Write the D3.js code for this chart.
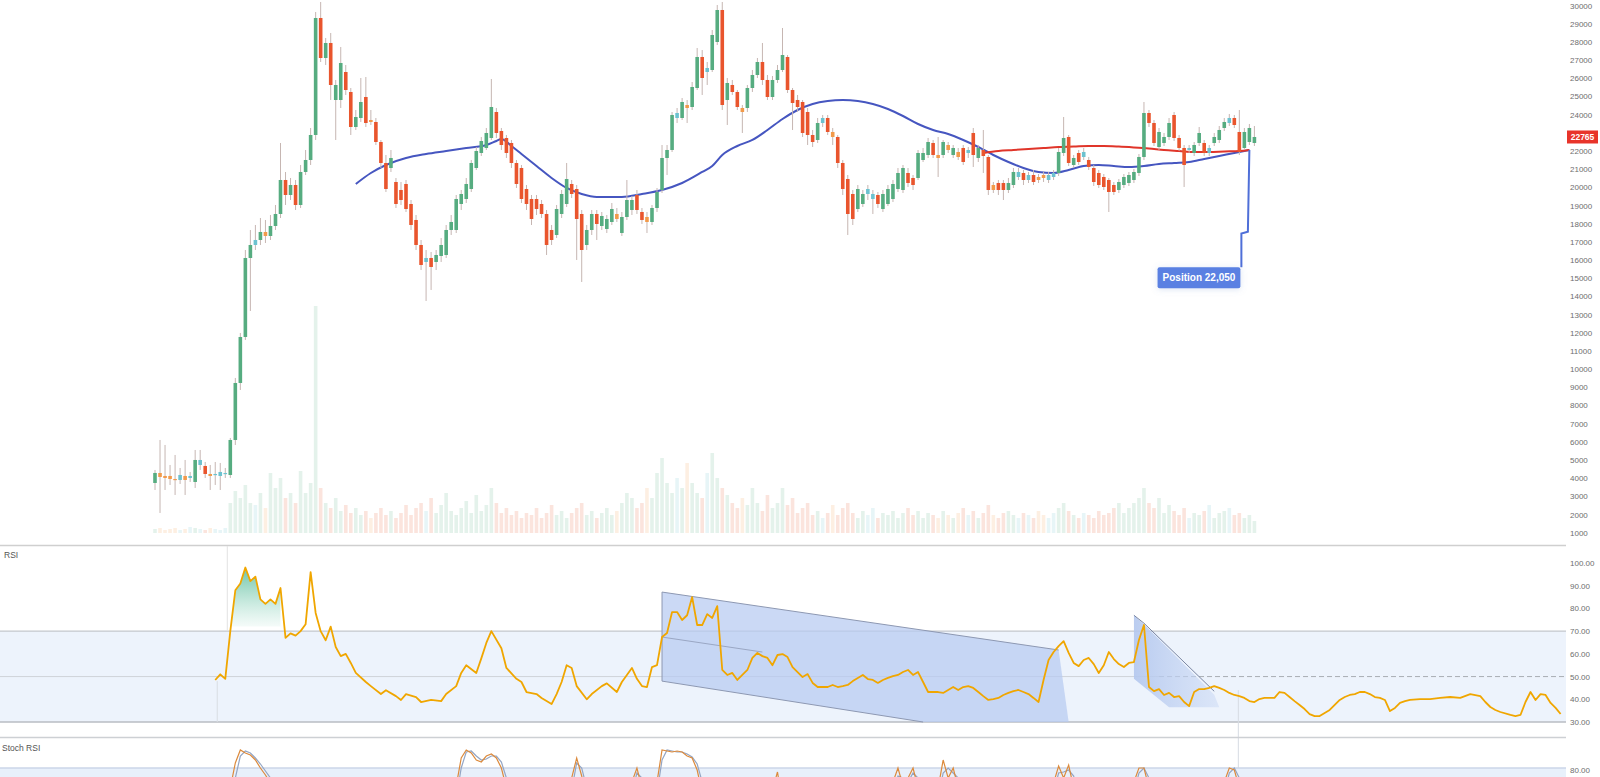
<!DOCTYPE html>
<html>
<head>
<meta charset="utf-8">
<script src="https://cdn.jsdelivr.net/npm/d3@7/dist/d3.min.js"></script>
<style>
  html, body { margin: 0; padding: 0; background: #ffffff; }
  svg { display: block; font-family: "Liberation Sans", Arial, sans-serif; }
</style>
</head>
<body>
<svg id="chart" width="1600" height="777"></svg>
<script>
// ---- price bars (one entry per session) ----
const opens = [
  3735,4285,4120,4120,3955,3900,4120,4010,3790,4725,
  4670,4230,4175,4120,4230,4175,6100,9235,11765,16110,
  16825,17100,17540,17320,17870,18530,20400,19575,20125,19025,
  20840,21500,22875,29310,27110,27935,24800,24800,26340,25240,
  23315,23810,24965,23700,23590,22490,21335,21060,20290,19850,
  20180,19080,18200,16825,15890,16110,15890,16220,16275,17650,
  17650,19080,19355,19905,21060,21885,22160,22710,24140,23095,
  22710,22435,21335,21060,19905,19355,19355,19080,18530,17650,
  17375,18530,19080,20180,19905,18530,16825,17650,18530,17870,
  17705,18090,18530,17485,18365,18750,19575,18640,18365,18090,
  18860,19850,21610,22050,23810,23810,24525,24415,25460,27165,
  26340,26450,27990,29750,24800,25625,25240,24360,24360,25460,
  26175,26890,25900,24965,25900,26450,27165,25350,24800,24690,
  24140,22875,22600,23535,23810,23040,22765,21335,20455,19630,
  18805,19080,19630,19355,19575,18805,19080,19355,19905,19850,
  20785,20510,20510,21500,21775,22435,21775,21775,22325,21775,
  21940,22160,21885,22985,21610,22050,21665,20125,20235,20235,
  19850,20125,20565,20785,20400,20675,20565,20675,20400,20565,
  20785,21885,22765,21225,21885,21665,21500,21060,20785,20565,
  20400,20125,19850,20125,20235,20400,20785,21665,24085,23535,
  22215,22435,22765,23975,22710,22160,22050,21885,22435,22435,
  21885,22435,22600,23260,23535,23810,23040,22160,22490,22435
];
const highs = [
  4450,6100,5825,4725,5275,4560,5000,4340,5550,5550,
  4890,4725,4890,4835,4560,6210,9510,11985,16550,17650,
  17925,18310,18200,18475,19025,22435,20840,20510,20400,21225,
  22050,23260,29640,30190,28210,28485,25900,27715,26725,25460,
  24250,26010,26065,24250,23810,22600,21775,22050,20510,20290,
  20400,19300,18475,17100,16550,16440,16550,17210,17925,18475,
  19575,19850,20510,21500,22215,22765,23260,25955,24360,23260,
  22875,22600,21500,21225,20125,19575,19575,19300,18750,17925,
  19025,19850,21335,20400,20125,18750,17925,18750,18750,18640,
  18475,19135,18860,18640,20400,19520,19850,18860,18640,19025,
  19960,22325,22325,24140,24360,24910,24800,25790,27660,27550,
  26890,28650,30025,30190,26010,25900,25350,24525,25625,26450,
  27110,27935,26175,26120,26725,28760,27275,25460,25075,24800,
  24360,23150,23810,23975,23975,23260,22875,21500,20675,19850,
  20125,19850,20125,19850,19740,19850,20125,20400,21060,21225,
  21060,20675,22050,22160,22710,22600,22765,22600,22490,22325,
  22160,22325,22215,23260,22325,23150,21775,20290,20400,20400,
  20510,21060,21060,20950,20840,20950,20730,20840,20840,20950,
  22160,23865,22875,21775,22050,22160,21665,21225,20950,20730,
  20510,20290,20455,20730,20840,21005,21830,24690,24250,23700,
  23260,22985,23810,24140,22875,22325,22325,22490,23315,22600,
  22325,22985,23370,23810,24030,23975,24250,23260,23480,23370
];
const lows = [
  3350,2085,3350,3625,3075,3680,3075,3790,3460,4450,
  4010,3350,3625,3350,4010,4010,5825,8850,11600,13195,
  16550,16825,16935,17100,17650,18310,19025,19300,18750,18860,
  20675,21225,22600,26890,26725,24800,22600,24360,25075,22875,
  23150,23590,23315,23425,22325,21060,19740,20840,18860,19025,
  18640,17650,16550,15450,13745,14350,15450,15890,16110,17375,
  17485,18750,19135,19740,20950,21720,22050,22600,22710,22050,
  21610,21060,19960,19135,18750,17925,18475,18310,16275,16825,
  17210,18310,18915,19410,16000,14790,16550,17375,17100,17650,
  17485,17925,18090,17320,18200,18475,18530,17980,17485,17925,
  18640,19685,20675,21940,23535,23700,23535,24250,25350,25075,
  25625,26340,27825,24250,23425,25075,24250,22985,24140,25240,
  26010,25625,24800,24800,25735,26340,25185,23150,24140,22765,
  22325,22215,22435,23315,22875,22325,21060,19575,17375,17925,
  18640,18915,19300,18530,18860,18640,18970,19190,19740,19685,
  20015,19850,20400,21390,21610,21610,20565,21610,21885,21610,
  21500,21225,21610,21115,21390,20785,19575,19685,19575,19300,
  19685,19960,20400,20125,20235,20125,20235,20290,20235,20400,
  20620,21720,21170,21060,21225,21500,20950,20070,19960,19850,
  18640,19575,19685,19960,20070,20235,20620,21500,23315,22270,
  22050,22270,22600,22545,21995,20015,21885,21720,22270,21720,
  21720,22270,22435,23095,23370,23260,21775,22050,22325,22270
];
const closes = [
  4285,4065,4010,3955,3900,4175,3900,4120,5000,5000,
  4230,4120,4230,4340,4285,6100,9235,11765,16110,16825,
  17100,17540,17320,17870,18530,20400,19575,20125,19025,20840,
  21500,22875,29310,27110,27935,25625,25625,26835,25350,23315,
  23865,24690,23535,23590,22490,21335,19905,21610,19080,19300,
  18805,17925,16825,15725,16110,15615,16275,16825,17650,18090,
  19355,19630,20180,21335,21995,22545,22985,24415,22985,22325,
  21885,21335,20180,19355,19080,18255,18805,18530,16825,17100,
  18805,19630,20455,19630,18255,16550,17650,18530,17980,18420,
  18255,18805,18255,18365,19300,19300,18750,18200,18090,18860,
  19740,21610,22050,23975,24085,24690,24360,25515,27165,26010,
  26560,28375,29750,24525,25735,25240,24415,24140,25460,26175,
  26890,25900,24965,25900,26450,27275,25350,24635,24415,22985,
  22875,22490,23535,23810,23040,22765,21335,19905,18530,18255,
  19905,19630,19905,19630,19080,19630,19905,20180,20785,21060,
  20235,20125,21885,21885,22490,21775,21610,22490,22050,22160,
  21665,21390,22050,21775,22160,21720,19850,19850,19850,19850,
  20235,20840,20840,20400,20675,20290,20400,20510,20675,20785,
  21940,22710,21335,21610,21390,21940,21115,20290,20125,20015,
  19740,19740,20290,20565,20675,20840,21665,24085,23535,22435,
  23040,22765,23535,22710,22160,21225,22160,22325,22985,21885,
  22160,22765,23150,23590,23810,23425,21940,23040,23260,22765
];
const volumes = [
  4,5,3,4,5,3,4,6,5,4,3,5,4,3,5,
  30,42,35,48,30,28,40,25,60,45,
  55,35,40,30,62,40,50,227,45,30,
  25,35,22,28,20,25,18,22,15,20,
  25,18,22,15,20,28,18,25,30,22,
  35,20,28,40,22,18,25,32,20,38,
  22,28,45,30,20,25,18,22,15,20,
  18,25,15,20,28,18,22,15,20,25,
  30,18,22,15,20,25,18,22,30,40,
  35,25,30,45,35,60,75,50,40,55,
  45,70,50,40,35,60,80,55,45,38,
  30,25,35,28,45,30,22,38,25,30,
  45,28,35,20,25,30,18,22,15,20,
  28,18,25,30,20,15,22,18,25,15,
  20,18,22,15,20,25,18,22,15,20,
  18,15,22,18,15,20,25,18,22,15,
  20,28,18,15,20,22,18,15,20,18,
  15,22,18,15,20,25,30,22,18,15,
  20,18,15,22,18,20,25,30,20,25,
  30,35,45,30,25,35,20,28,22,18,
  25,15,20,18,22,28,15,20,22,25,
  18,20,15,18,12
];

// ---- moving averages (bar index, value) ----
const slowMaBars = [40,43,46,50,54,58,62,66,68,69,71,73,76,79,82,85,88,93,97,101,105,109,111,113,116,119,122,125,128,131,134,137,140,143,146,149,152,155,158,161,164,167,170,173,176,179,182,185,188,191,194,197,200,203,206,209,212,215,218];
const slowMaVals = [20180,20785,21225,21610,21830,21995,22160,22325,22545,22655,22270,21830,21170,20510,19960,19630,19465,19465,19630,19850,20235,20840,21170,21775,22270,22600,23150,23755,24250,24580,24745,24800,24745,24580,24305,23920,23480,23150,22930,22600,22215,21775,21390,21060,20840,20785,20950,21170,21225,21170,21115,21170,21280,21335,21390,21555,21720,21885,22050];
const fastMaBars = [165,168,171,174,177,180,183,186,189,192,195,198,201,204,207,210,213,216,218];
const fastMaVals = [21885,21995,22050,22105,22160,22215,22240,22270,22270,22240,22190,22130,22050,21995,21940,21940,21970,21995,22050];

// ---- RSI (bar index, value) ----
const rsiBars = [12,13,14,15,16,17,18,19,20,21,22,23,24,25,26,27,28,29,30,31,32,33,34,35,36,37,38,39,40,42,43,45,46,48,49,50,52,53,55,57,58,60,61,62,64,65,66,67,69,70,72,73,74,76,77,79,80,81,82,83,84,86,87,89,90,92,93,95,96,97,98,99,100,101,102,103,104,105,106,107,108,109,110,111,112,113,114,115,116,117,118,119,120,121,122,123,124,125,126,127,128,129,130,131,132,133,134,135,136,137,138,139,140,141,142,143,144,145,146,147,148,149,150,151,152,153,154,155,156,157,158,159,160,161,162,163,164,165,166,167,168,169,170,171,172,173,174,175,176,177,178,179,180,181,182,183,184,185,186,187,188,189,190,191,192,193,194,195,196,197,198,199,200,201,202,203,204,205,206,207,208,209,210,211,212,213,214,215,216,217,218,219,220,221,223,224,225,226,227,228,229,230,231,232,233,234,235,236,237,238,239,240,241,242,243,244,245,246,247,248,249,250,252,254,256,258,260,262,264,265,266,267,268,270,271,272,273,274,275,276,277,278,279,280];
const rsiVals = [48.5,51,49,70,88,91,98,92,94,84,82,84,82,89,67,69,68,70,73,96,78,70,66,72,63,59,60,56,51.6,47.6,45.8,42.3,44,41.4,39.7,42.3,41,38.8,39.7,39.2,42.3,45.8,51.6,55,51.6,58,64.8,70,62.5,53.8,49,47.6,43.2,42.3,40.6,37.9,42.3,47.6,55,53.8,45.8,40,42.3,45.8,47,43.2,47.6,53.8,49,45.8,45.4,54.2,55,67.4,69.2,78.4,78.4,74.9,77,85,72.7,72.7,77.5,75.8,81,52.9,50.7,51.6,48.5,50.7,52.9,58.2,60.4,59,58.2,55,59.5,59.9,58.6,54.2,52,49.8,51.1,47.2,45.4,45.4,45.4,46.3,45.4,45.8,46.3,48,49.4,50.7,48.9,48.5,47.2,48.5,49.4,50.2,50.7,52,52.9,50.7,52,47.6,43.2,43.2,43.2,42.8,44.1,45.4,44.1,45.4,45.8,45,43.2,41.4,39.7,40.1,40.6,41.9,42.8,43.6,44.1,43.2,42.3,40.6,38.8,48.5,57.3,60.8,63.4,65.6,60.4,56,54.6,57.3,58.2,55.5,51.6,55,60.8,57.7,55.5,54.2,56,56.4,66.1,72.7,45.4,43.6,44.5,41.9,42.8,41,41.4,38.8,37,43.2,44.5,44.5,45,45.8,45,44.1,42.8,41.9,41.4,40.6,39.2,38.8,40.1,40.6,40.6,43.2,42.8,41,39.2,37.5,35.7,33.5,32.6,32.6,34,35.3,37.5,39.7,41,41.9,42.3,43.2,43.2,42.3,41,40.6,39.7,34.8,36.2,38.4,39.2,39.7,40.1,40.1,40.6,41,40.6,42.3,41.4,38.8,36.6,35.3,34.4,33.1,32.6,33.1,38.8,43.2,39.7,42.3,41.9,38.4,36.2,33.5];

// divergence channel and wedge drawn on the RSI pane (bar index, RSI value)
const channelShape = [[101,87.2],[180,61.7],[182,30],[153,30],[101,48]];
const channelTopEdge = [[101,87.2],[180,61.7]];
const channelBottomEdge = [[101,48],[153,30]];
const channelMidEdge = [[101,67.4],[121,60.8]];
const wedgeShape = [[195,77],[197,73],[211,42],[212,36.5],[202,36.5],[195,49]];
const wedgeEdge = [[195,77],[197,73.5],[211,43.5]];

// ---- stochastic (bar index, value) ----
const stochKBars = [12,15,16,17,18,19,20,21,22,23,24,26,58,60,61,62,63,64,65,66,67,68,69,70,71,81,83,84,85,86,94,95,96,97,99,100,101,102,103,104,105,106,107,108,109,110,122,124,125,145,147,148,149,150,151,152,154,156,157,158,159,160,161,177,179,180,181,182,183,184,194,195,196,197,198,199,211,213,214,215,216,217,219];
const stochKVals = [40,60,85,98,95,93,88,80,73,65,50,40,40,62,90,98,95,88,86,92,94,90,80,60,40,40,70,90,72,50,45,66,80,60,45,66,98,97,96,97,96,92,90,78,55,40,40,76,45,40,66,80,62,70,80,60,45,60,88,70,80,60,40,40,65,82,70,83,60,40,40,66,80,80,60,40,40,66,80,78,60,40,40];
const stochDBars = [12,15,16,17,18,19,20,21,22,23,24,26,58,60,61,62,63,64,65,66,67,68,69,70,71,72,81,83,84,85,86,87,94,95,96,97,98,100,101,102,103,104,105,106,107,108,109,110,122,124,125,126,145,147,148,149,150,151,152,153,156,157,158,159,160,161,177,179,180,181,182,183,184,194,195,196,197,198,199,211,213,214,215,216,217,219];
const stochDVals = [35,45,70,92,97,95,90,84,77,70,58,42,38,50,80,96,97,92,88,89,92,92,86,70,48,38,38,58,85,80,60,42,40,55,75,70,48,55,88,98,97,96,96,94,91,84,66,45,38,60,55,40,38,55,72,70,66,75,70,50,50,75,80,75,70,48,38,55,75,76,78,72,50,38,55,75,80,70,48,38,55,75,80,70,48,40];

// ---- axis ticks ----
const priceTicks = d3.range(1000, 30001, 1000);
const rsiTicks = [100, 90, 80, 70, 60, 50, 40, 30];
const rsiBands = { upper: 70, middle: 50, lower: 30 };
const stochTicks = [80];
const lastBar = opens.length - 1;

// ---- scales ----
const svg = d3.select("#chart");
const x = d3.scaleLinear().domain([0, lastBar]).range([155, 1254.4]);
const yPrice = d3.scaleLinear().domain([1000, 30000]).range([532.7, 5.45]);
const yVol = d3.scaleLinear().domain([0, 230]).range([533, 303]);
const yRsi = d3.scaleLinear().domain([30, 100]).range([722, 563]);
const yStoch = d3.scaleLinear().domain([0, 100]).range([848, 748]);

const paneRight = 1566;
const bodyW = 3.6;

const defs = svg.append("defs");
defs.append("clipPath").attr("id", "rsiClip")
  .append("rect").attr("x", 0).attr("y", 546).attr("width", paneRight).attr("height", 190);
defs.append("clipPath").attr("id", "stochClip")
  .append("rect").attr("x", 0).attr("y", 738).attr("width", paneRight).attr("height", 40);
const obGrad = defs.append("linearGradient").attr("id", "obGrad")
  .attr("x1", 0).attr("x2", 0).attr("y1", 0).attr("y2", 1);
obGrad.append("stop").attr("offset", "0%").attr("stop-color", "#3db08a").attr("stop-opacity", 0.75);
obGrad.append("stop").attr("offset", "100%").attr("stop-color", "#7fcfb5").attr("stop-opacity", 0.08);
const wedgeGrad = defs.append("linearGradient").attr("id", "wedgeGrad")
  .attr("x1", 0).attr("x2", 1).attr("y1", 0).attr("y2", 0);
wedgeGrad.append("stop").attr("offset", "0%").attr("stop-color", "#b3c7ee").attr("stop-opacity", 0.9);
wedgeGrad.append("stop").attr("offset", "100%").attr("stop-color", "#c9d8f4").attr("stop-opacity", 0.5);
const shadow = defs.append("filter").attr("id", "softShadow")
  .attr("x", "-30%").attr("y", "-60%").attr("width", "160%").attr("height", "220%");
shadow.append("feDropShadow").attr("dx", 0).attr("dy", 1).attr("stdDeviation", 3)
  .attr("flood-color", "#7090d0").attr("flood-opacity", 0.25);

// ---- candle colouring ----
function tone(i) {
  const up = closes[i] >= opens[i];
  const small = Math.abs(closes[i] - opens[i]) < 330;
  if (up) return small ? "#6cc2cf" : "#56ac80";
  return small ? "#f29a4a" : "#e9552d";
}

const idx = d3.range(opens.length);

// ---- volume ----
svg.append("g").selectAll("rect").data(idx).join("rect")
  .attr("x", i => x(i) - bodyW / 2)
  .attr("width", bodyW)
  .attr("y", i => yVol(volumes[i]))
  .attr("height", i => yVol(0) - yVol(volumes[i]))
  .attr("fill", i => tone(i))
  .attr("opacity", 0.16);

// ---- moving averages ----
const maLine = d3.line().x(d => x(d[0])).y(d => yPrice(d[1])).curve(d3.curveMonotoneX);
svg.append("path").datum(slowMaBars.map((b, k) => [b, slowMaVals[k]]))
  .attr("d", maLine).attr("fill", "none").attr("stroke", "#4656c0").attr("stroke-width", 2);
svg.append("path").datum(fastMaBars.map((b, k) => [b, fastMaVals[k]]))
  .attr("d", maLine).attr("fill", "none").attr("stroke", "#e0352a").attr("stroke-width", 2);

// ---- candles ----
const cg = svg.append("g");
cg.selectAll("line").data(idx).join("line")
  .attr("x1", i => x(i)).attr("x2", i => x(i))
  .attr("y1", i => yPrice(highs[i])).attr("y2", i => yPrice(lows[i]))
  .attr("stroke", "#c6b6b2").attr("stroke-width", 1);
cg.selectAll("rect").data(idx).join("rect")
  .attr("x", i => x(i) - bodyW / 2)
  .attr("width", bodyW)
  .attr("y", i => yPrice(Math.max(opens[i], closes[i])))
  .attr("height", i => Math.max(1.2, Math.abs(yPrice(opens[i]) - yPrice(closes[i]))))
  .attr("fill", i => tone(i));

// ---- annotation attached to the slow average ----
const noteBar = slowMaBars[slowMaBars.length - 1];
const noteVal = slowMaVals[slowMaVals.length - 1];
const noteText = "Position " + d3.format(",")(noteVal);
const ax = x(noteBar), ay = yPrice(noteVal);
const boxTop = yPrice(15600), boxBottom = yPrice(14450);
const noteG = svg.append("g");
const tmp = noteG.append("text").attr("font-size", 10).attr("font-weight", 700).text(noteText);
const tw = tmp.node().getComputedTextLength();
tmp.remove();
const boxRight = ax - 9, boxW = tw + 10, boxLeft = boxRight - boxW;
noteG.append("path")
  .attr("d", `M${ax},${ay} L${ax - 1.5},${yPrice(17550)} L${boxRight + 1},${yPrice(17450)} L${boxRight + 1},${boxTop}`)
  .attr("fill", "none").attr("stroke", "#4f6fd8").attr("stroke-width", 2);
noteG.append("rect")
  .attr("x", boxLeft).attr("y", boxTop).attr("width", boxW).attr("height", boxBottom - boxTop)
  .attr("rx", 2).attr("fill", "#5a80e2").attr("filter", "url(#softShadow)");
noteG.append("text")
  .attr("x", boxLeft + boxW / 2).attr("y", (boxTop + boxBottom) / 2 + 3.5)
  .attr("text-anchor", "middle").attr("font-size", 10).attr("font-weight", 700)
  .attr("fill", "#ffffff").text(noteText);

// ---- price axis and last price tag ----
const lastClose = closes[lastBar];
const tagY = yPrice(lastClose);
const priceAxis = d3.axisRight(yPrice)
  .tickValues(priceTicks.filter(t => Math.abs(yPrice(t) - tagY) > 10))
  .tickSize(0).tickPadding(0).tickFormat(d3.format("d"));
const pa = svg.append("g").attr("transform", "translate(1570,0)").call(priceAxis);
pa.select(".domain").remove();
pa.selectAll("text").attr("font-size", 8).attr("fill", "#6e6e6e").attr("font-family", "Liberation Sans, Arial, sans-serif");
svg.append("rect").attr("x", 1567).attr("y", tagY - 6.5).attr("width", 31).attr("height", 13)
  .attr("fill", "#e8342a");
svg.append("text").attr("x", 1582.5).attr("y", tagY + 3).attr("text-anchor", "middle")
  .attr("font-size", 8.5).attr("font-weight", 700).attr("fill", "#ffffff").text(d3.format("d")(lastClose));

// ---- pane separators ----
svg.append("line").attr("x1", 0).attr("x2", paneRight).attr("y1", 545.5).attr("y2", 545.5)
  .attr("stroke", "#cfcfcf").attr("stroke-width", 1.5);

// ---- RSI pane ----
svg.append("text").attr("x", 4).attr("y", 558).attr("font-size", 8.5).attr("fill", "#555").text("RSI");
svg.append("rect").attr("x", 0).attr("y", yRsi(rsiBands.upper)).attr("width", paneRight)
  .attr("height", yRsi(rsiBands.lower) - yRsi(rsiBands.upper)).attr("fill", "#edf3fc");
svg.append("line").attr("x1", 0).attr("x2", paneRight)
  .attr("y1", yRsi(rsiBands.upper)).attr("y2", yRsi(rsiBands.upper))
  .attr("stroke", "#c3c7cd").attr("stroke-width", 1.2);
svg.append("line").attr("x1", 0).attr("x2", x(200))
  .attr("y1", yRsi(rsiBands.middle)).attr("y2", yRsi(rsiBands.middle))
  .attr("stroke", "#cfd3d9").attr("stroke-width", 1);
svg.append("line").attr("x1", x(200)).attr("x2", paneRight)
  .attr("y1", yRsi(rsiBands.middle)).attr("y2", yRsi(rsiBands.middle))
  .attr("stroke", "#a9adb4").attr("stroke-width", 1).attr("stroke-dasharray", "5,3");
svg.append("line").attr("x1", 0).attr("x2", paneRight)
  .attr("y1", yRsi(rsiBands.lower)).attr("y2", yRsi(rsiBands.lower))
  .attr("stroke", "#b9bdc3").attr("stroke-width", 1.5);
// faint session markers
svg.append("line").attr("x1", x(14.4)).attr("x2", x(14.4)).attr("y1", 546).attr("y2", yRsi(70))
  .attr("stroke", "#e2e2e2").attr("stroke-width", 1);
svg.append("line").attr("x1", x(12.4)).attr("x2", x(12.4)).attr("y1", yRsi(48)).attr("y2", yRsi(30))
  .attr("stroke", "#d9dde3").attr("stroke-width", 1);
svg.append("line").attr("x1", x(215.8)).attr("x2", x(215.8)).attr("y1", yRsi(44)).attr("y2", 777)
  .attr("stroke", "#d6dbe3").attr("stroke-width", 1);

const rsiG = svg.append("g").attr("clip-path", "url(#rsiClip)");
const pt = d => [x(d[0]), yRsi(d[1])];
const poly = pts => "M" + pts.map(d => pt(d).join(",")).join("L") + "Z";
const polyline = pts => "M" + pts.map(d => pt(d).join(",")).join("L");

rsiG.append("path").attr("d", poly(channelShape)).attr("fill", "#b7cbf1").attr("opacity", 0.72);
rsiG.append("path").attr("d", polyline([channelTopEdge[0], channelShape[4]])).attr("stroke", "#8d98b2").attr("stroke-width", 1).attr("fill", "none");
rsiG.append("path").attr("d", polyline(channelTopEdge)).attr("stroke", "#8d98b2").attr("stroke-width", 1).attr("fill", "none");
rsiG.append("path").attr("d", polyline(channelBottomEdge)).attr("stroke", "#8d98b2").attr("stroke-width", 1).attr("fill", "none");
rsiG.append("path").attr("d", polyline(channelMidEdge)).attr("stroke", "#9aa7c4").attr("stroke-width", 1).attr("fill", "none");
rsiG.append("path").attr("d", poly(wedgeShape)).attr("fill", "url(#wedgeGrad)");
rsiG.append("path").attr("d", polyline(wedgeEdge)).attr("stroke", "#7a86a3").attr("stroke-width", 1).attr("fill", "none");

const rsiPts = rsiBars.map((b, k) => [b, rsiVals[k]]);
const obPts = rsiPts.filter(d => d[0] >= 15 && d[0] <= 25);
rsiG.append("path").datum(obPts)
  .attr("d", d3.area().x(d => x(d[0])).y0(yRsi(72)).y1(d => yRsi(Math.max(72, d[1]))))
  .attr("fill", "url(#obGrad)");
rsiG.append("path").datum(rsiPts)
  .attr("d", d3.line().x(d => x(d[0])).y(d => yRsi(d[1])))
  .attr("fill", "none").attr("stroke", "#f0a600").attr("stroke-width", 1.8).attr("stroke-linejoin", "round");

const rsiAxis = d3.axisRight(yRsi).tickValues(rsiTicks).tickSize(0).tickPadding(0).tickFormat(d3.format(".2f"));
const ra = svg.append("g").attr("transform", "translate(1570,0)").call(rsiAxis);
ra.select(".domain").remove();
ra.selectAll("text").attr("font-size", 8).attr("fill", "#6e6e6e").attr("font-family", "Liberation Sans, Arial, sans-serif");

// ---- stochastic pane ----
svg.append("line").attr("x1", 0).attr("x2", paneRight).attr("y1", 737.5).attr("y2", 737.5)
  .attr("stroke", "#cdd0d4").attr("stroke-width", 1.5);
svg.append("text").attr("x", 2).attr("y", 751).attr("font-size", 8.5).attr("fill", "#555").text("Stoch RSI");
svg.append("rect").attr("x", 0).attr("y", yStoch(80)).attr("width", paneRight).attr("height", 777 - yStoch(80))
  .attr("fill", "#e8f0fb");
svg.append("line").attr("x1", 0).attr("x2", paneRight).attr("y1", yStoch(80)).attr("y2", yStoch(80))
  .attr("stroke", "#cbd6e8").attr("stroke-width", 1.5);
const stG = svg.append("g").attr("clip-path", "url(#stochClip)");
const stLine = d3.line().x(d => x(d[0])).y(d => yStoch(d[1]));
stG.append("path").datum(stochDBars.map((b, k) => [b, stochDVals[k]]))
  .attr("d", stLine).attr("fill", "none").attr("stroke", "#93a5c4").attr("stroke-width", 1.2);
stG.append("path").datum(stochKBars.map((b, k) => [b, stochKVals[k]]))
  .attr("d", stLine).attr("fill", "none").attr("stroke", "#dc8a3c").attr("stroke-width", 1.2);
const stAxis = d3.axisRight(yStoch).tickValues(stochTicks).tickSize(0).tickPadding(0).tickFormat(d3.format(".2f"));
const sa = svg.append("g").attr("transform", "translate(1570,2)").call(stAxis);
sa.select(".domain").remove();
sa.selectAll("text").attr("font-size", 8).attr("fill", "#6e6e6e").attr("font-family", "Liberation Sans, Arial, sans-serif");
</script>
</body>
</html>
